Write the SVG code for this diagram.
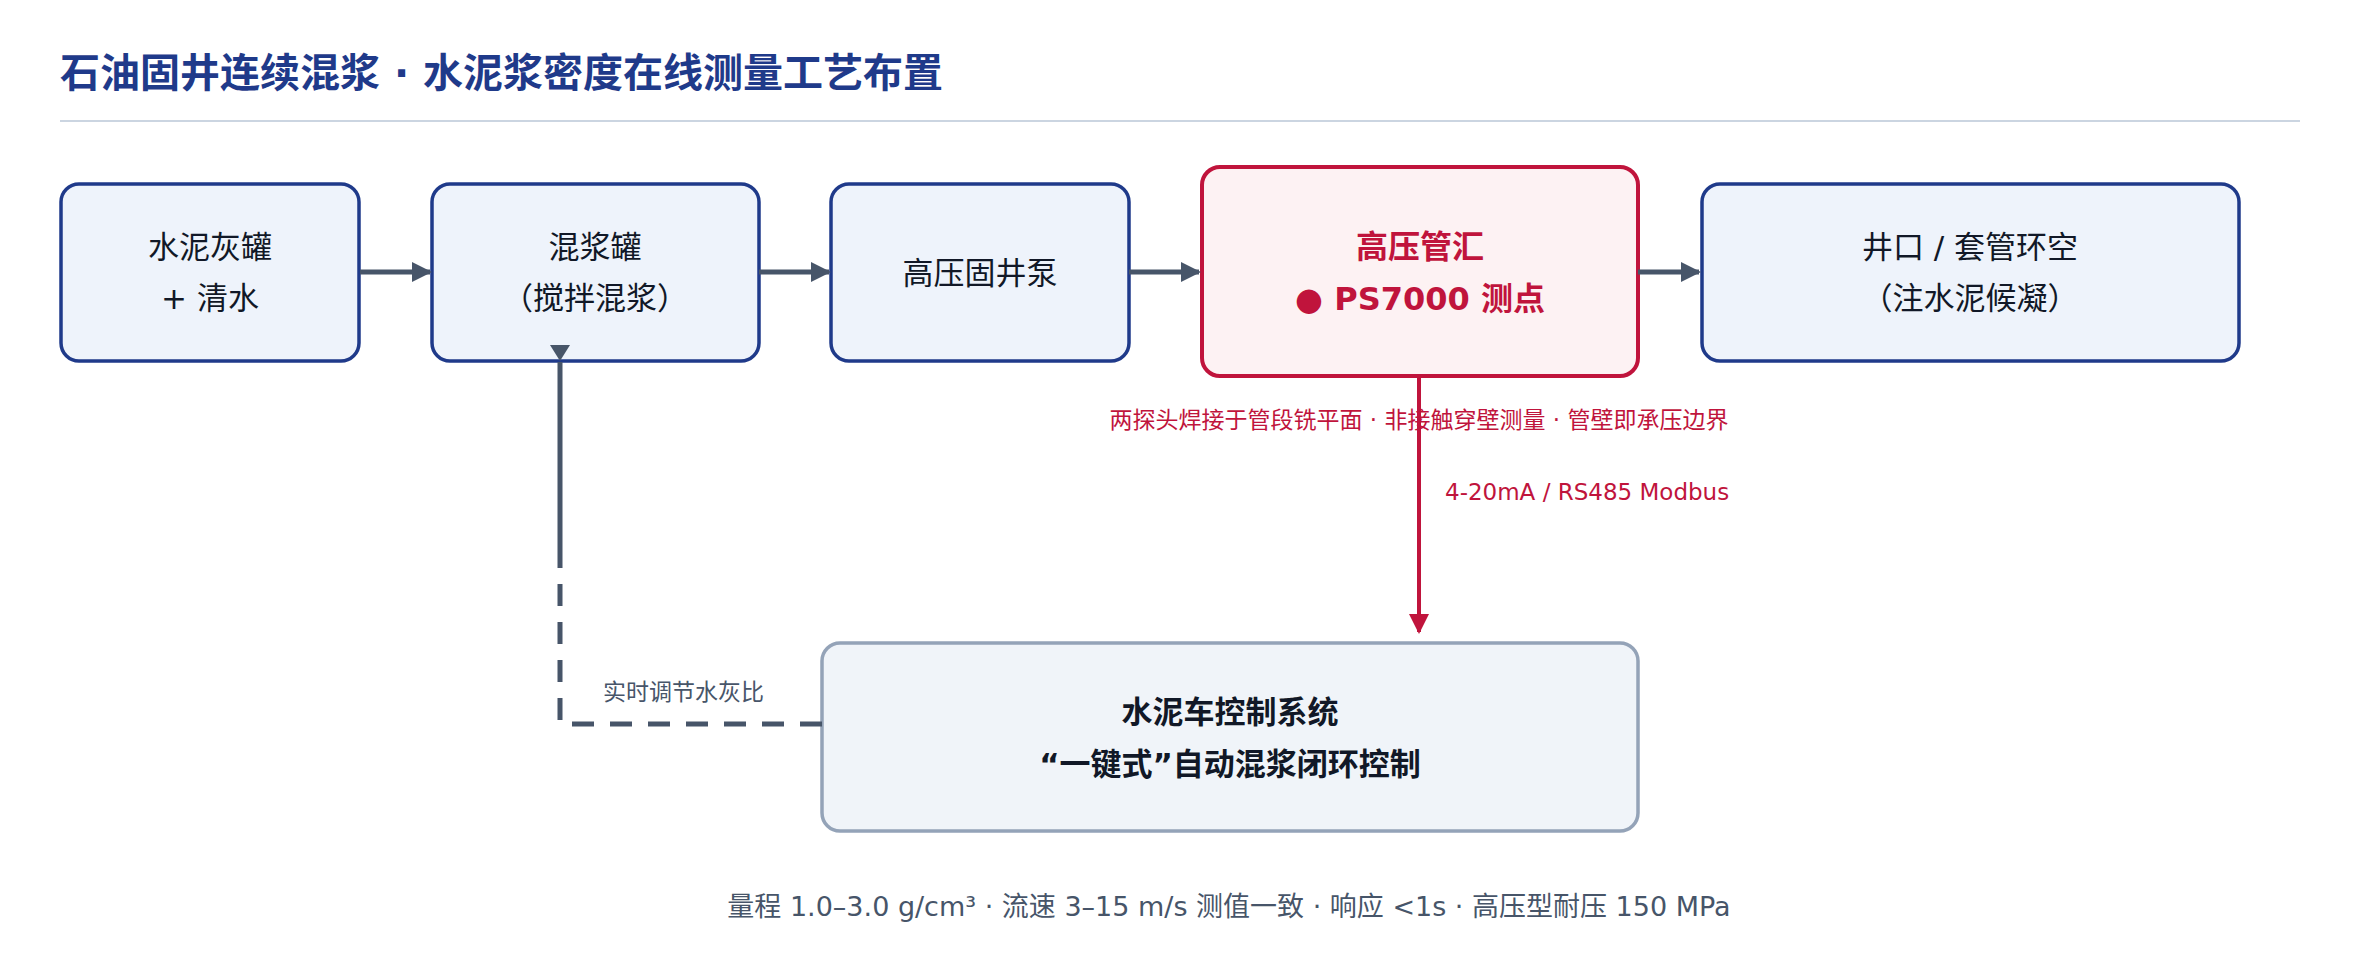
<svg xmlns="http://www.w3.org/2000/svg" width="2360" height="955" viewBox="0 0 2360 955">
<style>
text{font-family:"DejaVu Sans","Noto Sans CJK SC",sans-serif;}
.box{fill:#eef3fb;stroke:#1f3a8a;stroke-width:3.5;}
.t{font-size:31px;fill:#111827;text-anchor:middle;}
.flow{stroke:#475569;stroke-width:5;fill:none;}
</style>
<defs>
<marker id="ah" viewBox="0 0 10 10" refX="9" refY="5" markerWidth="4" markerHeight="4" orient="auto" markerUnits="strokeWidth"><path d="M0,0 L10,5 L0,10 z" fill="#475569"/></marker>
<marker id="ahr" viewBox="0 0 10 10" refX="9" refY="5" markerWidth="5" markerHeight="5" orient="auto" markerUnits="strokeWidth"><path d="M0,0 L10,5 L0,10 z" fill="#c0143c"/></marker>
</defs>
<rect width="2360" height="955" fill="#fff"/>
<text x="60" y="87" style="font-size:40px;font-weight:bold;fill:#1f3a8a">石油固井连续混浆 · 水泥浆密度在线测量工艺布置</text>
<line x1="60" y1="121" x2="2300" y2="121" stroke="#cbd5e1" stroke-width="2"/>
<g id="n1"><rect class="box" x="61" y="184" width="298" height="177" rx="18"/><text class="t" x="210" y="258">水泥灰罐</text><text class="t" x="210" y="309">+  清水</text></g>
<g id="n2"><rect class="box" x="432" y="184" width="327" height="177" rx="18"/><text class="t" x="595" y="258">混浆罐</text><text class="t" x="595" y="309">（搅拌混浆）</text></g>
<g id="n3"><rect class="box" x="831" y="184" width="298" height="177" rx="18"/><text class="t" x="980" y="284">高压固井泵</text></g>
<g id="n4"><rect x="1202" y="167" width="436" height="209" rx="18" fill="#fdf2f3" stroke="#c0143c" stroke-width="4"/><text class="t" x="1420" y="258" style="font-weight:bold;fill:#c0143c;font-size:32px">高压管汇</text><text class="t" x="1420" y="310" style="font-weight:bold;fill:#c0143c;font-size:32px">● PS7000 测点</text></g>
<g id="n5"><rect class="box" x="1702" y="184" width="537" height="177" rx="18"/><text class="t" x="1970" y="258">井口 / 套管环空</text><text class="t" x="1970" y="309">（注水泥候凝）</text></g>
<g id="n6"><rect x="822" y="643" width="816" height="188" rx="18" fill="#f0f4f9" stroke="#94a3b8" stroke-width="3.5"/><text class="t" x="1230" y="723" style="font-weight:bold">水泥车控制系统</text><text class="t" x="1230" y="775" style="font-weight:bold">“一键式”自动混浆闭环控制</text></g>
<g id="connectors">
<line class="flow" x1="360" y1="272" x2="430" y2="272" marker-end="url(#ah)"/>
<line class="flow" x1="759" y1="272" x2="829" y2="272" marker-end="url(#ah)"/>
<line class="flow" x1="1129" y1="272" x2="1199" y2="272" marker-end="url(#ah)"/>
<line class="flow" x1="1638" y1="272" x2="1699" y2="272" marker-end="url(#ah)"/>
<line x1="1419" y1="377" x2="1419" y2="632" stroke="#c0143c" stroke-width="4" marker-end="url(#ahr)"/>
<path class="flow" d="M560,362 V565"/>
<path class="flow" d="M822,724 H560 V565" stroke-dasharray="22 16"/>
<polygon points="550,345 570,345 560,361" fill="#475569"/>
<text x="1419" y="428" style="font-size:23px;fill:#c0143c;text-anchor:middle">两探头焊接于管段铣平面 · 非接触穿壁测量 · 管壁即承压边界</text>
<text x="1445" y="500" style="font-size:23px;fill:#c0143c">4-20mA / RS485 Modbus</text>
<text x="603" y="700" style="font-size:23px;fill:#475569">实时调节水灰比</text>
</g>
<text x="1229" y="916" style="font-size:27px;fill:#475569;text-anchor:middle">量程 1.0–3.0 g/cm³ · 流速 3–15 m/s 测值一致 · 响应 &lt;1s · 高压型耐压 150 MPa</text>
</svg>
